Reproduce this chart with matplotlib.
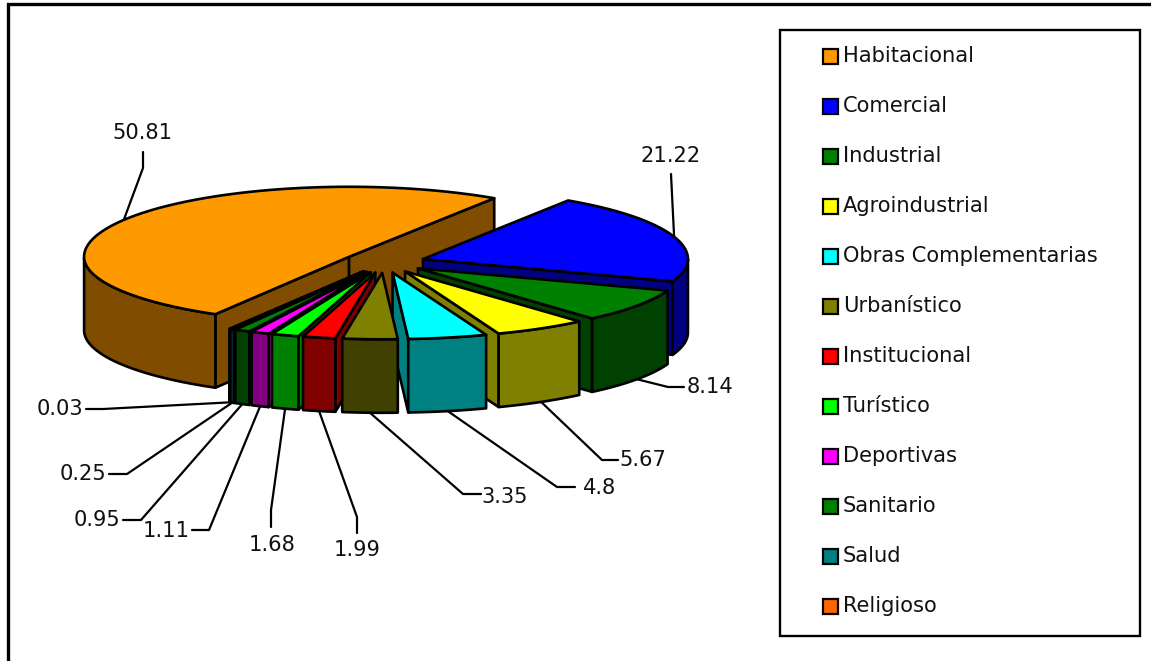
import numpy as np
import matplotlib
matplotlib.use("Agg")
import matplotlib.pyplot as plt
from matplotlib.patches import Polygon, Rectangle

categories = ["Habitacional", "Comercial", "Industrial", "Agroindustrial",
              "Obras Complementarias", "Urbanístico", "Institucional",
              "Turístico", "Deportivas", "Sanitario", "Salud", "Religioso"]
values = [50.81, 21.22, 8.14, 5.67, 4.8, 3.35, 1.99, 1.68, 1.11, 0.95, 0.25, 0.03]
value_labels = ["50.81", "21.22", "8.14", "5.67", "4.8", "3.35", "1.99", "1.68",
                "1.11", "0.95", "0.25", "0.03"]
colors = ["#FF9900", "#0000FF", "#008000", "#FFFF00", "#00FFFF", "#808000",
          "#FF0000", "#00FF00", "#FF00FF", "#008000", "#008080", "#FF6600"]

# Pie projection, in figure pixels; the near half of the ellipse is a little flatter
CX, CY = 384.0, 262.5
RX, RY_FAR, RY_NEAR = 265.0, 70.0, 66.5
EXPLODE = 0.155
DEPTH = 73.5
START_DEG = 239.7
LW = 1.9
LEADER_LW = 1.6

# Leader routes and text centres per slice, in the order of `values`
leader_mid = [(143, 168), (671, 174), (668, 387), (602, 460), (557, 487), (463, 494),
              (357, 517), (271, 510), (209, 530), (141, 520), (127, 474), (103, 409)]
leader_end = [(143, 152), (671, 174), (684, 387), (618, 460), (575, 487), (481, 494),
              (357, 533), (271, 527), (192, 530), (123, 520), (109, 474), (86, 409)]
text_pos = [(142, 133), (671, 156), (710, 387), (643, 460), (600, 488), (505, 497),
            (357, 550), (272, 545), (166, 531), (97, 520), (83, 474), (60, 409)]

plt.rcParams["font.family"] = ["DejaVu Sans"]
fig = plt.figure(figsize=(11.51, 6.61), dpi=100, facecolor="white")
ax = fig.add_axes([0, 0, 1, 1])
ax.set_xlim(0, 1151)
ax.set_ylim(661, 0)
ax.axis("off")

shares = np.array(values) / sum(values) * 360.0
edges = START_DEG - np.concatenate([[0], np.cumsum(shares)])


def offset(theta_deg, scale=1.0):
    t = np.radians(theta_deg)
    s = np.sin(t)
    return scale * RX * np.cos(t), -scale * (RY_FAR if s >= 0 else RY_NEAR) * s


def rim(theta_deg, apex):
    dx, dy = offset(theta_deg)
    return apex[0] + dx, apex[1] + dy


def poly(points, face, z):
    ax.add_patch(Polygon(points, closed=True, facecolor=face, edgecolor="black",
                         linewidth=LW, joinstyle="round", zorder=z))


def shade(hex_color):
    return tuple(np.array(matplotlib.colors.to_rgb(hex_color)) * 0.5)


def draw_slice(i, z):
    t0, t1 = edges[i], edges[i + 1]   # clockwise: t0 > t1
    mid = 0.5 * (t0 + t1)
    ox, oy = offset(mid, EXPLODE)
    apex = (CX + ox, CY + oy)
    side = shade(colors[i])
    mid_pt = rim(mid, apex)

    # Radial faces that look towards the viewer
    for t in (t0, t1):
        p = rim(t, apex)
        dx, dy = p[0] - apex[0], -(p[1] - apex[1])
        mx, my = mid_pt[0] - apex[0], -(mid_pt[1] - apex[1])
        if (dx * my - dy * mx) * (-dx) < 0:
            poly([apex, p, (p[0], p[1] + DEPTH), (apex[0], apex[1] + DEPTH)], side, z)

    # Outer wall, only the arc on the near half of the ellipse
    arc = np.linspace(t0, t1, 200)
    near = arc[np.sin(np.radians(arc)) < 0]
    if near.size > 1:
        top = [rim(t, apex) for t in near]
        poly(top + [(x, y + DEPTH) for x, y in reversed(top)], side, z + 0.1)

    # Top face
    poly([apex] + [rim(t, apex) for t in arc], colors[i], z + 0.2)

    # Leader from the middle of the slice's rim, then its value label
    sx, sy = mid_pt
    if np.sin(np.radians(mid)) < 0:
        sy += DEPTH
    ax.plot([sx, leader_mid[i][0], leader_end[i][0]],
            [sy, leader_mid[i][1], leader_end[i][1]],
            color="black", lw=LEADER_LW, solid_capstyle="round", zorder=0.5)
    ax.text(*text_pos[i], value_labels[i], fontsize=15.1, color="#111111",
            ha="center", va="center", zorder=50)


# Back slice first, then both flanks inwards, front centre last
draw_order = [0, 1, 2, 3, 4, 11, 10, 9, 8, 7, 6, 5]
for rank, idx in enumerate(draw_order):
    draw_slice(idx, 2 + rank)

# Outer frame: top and left rules only
ax.plot([8, 8, 1151], [661, 4, 4], color="black", lw=2.4, solid_joinstyle="miter", zorder=1)

# Legend
ax.add_patch(Rectangle((780, 30), 360, 606, facecolor="white", edgecolor="black",
                       linewidth=1.7, zorder=1))
for k, (name, col) in enumerate(zip(categories, colors)):
    y = 56 + 50 * k
    ax.add_patch(Rectangle((823.5, y - 7), 14.5, 14.5, facecolor=col, edgecolor="black",
                           linewidth=1.6, zorder=2))
    ax.text(843, y, name, fontsize=15.1, color="#111111", ha="left", va="center", zorder=3)

fig.savefig("out.png", dpi=100, facecolor="white")
